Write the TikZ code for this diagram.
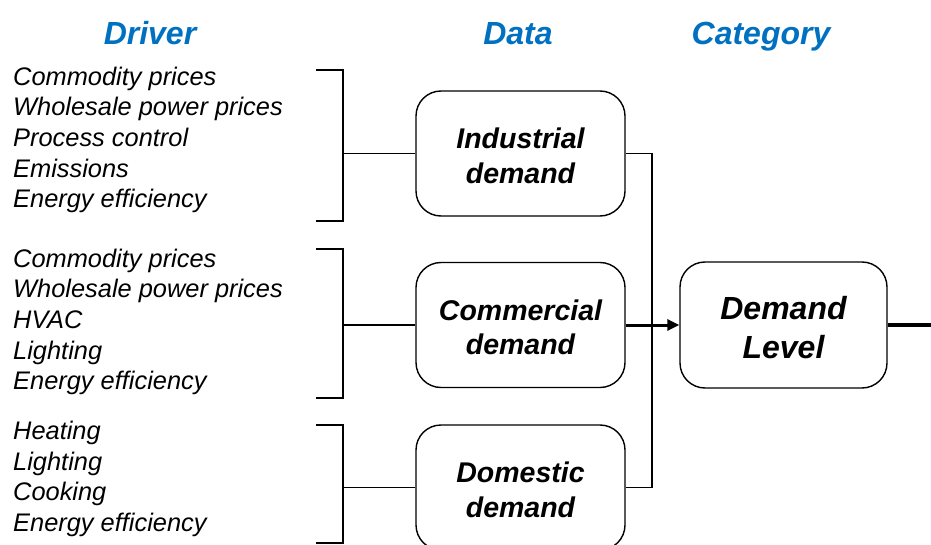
\documentclass[tikz,border=0pt]{standalone}
\usepackage{fontspec}
\setmainfont{Liberation Sans}
\usetikzlibrary{arrows.meta}
\definecolor{hdrblue}{RGB}{0,112,192}
\begin{document}
\begin{tikzpicture}[x=1pt,y=-1pt,
  hdr/.style={font=\fontsize{32}{36}\selectfont\bfseries\itshape, text=hdrblue, inner sep=0pt, anchor=base},
  drv/.style={font=\fontsize{25.4}{30.6}\selectfont\itshape, align=left, anchor=west, inner sep=0pt},
  databox/.style={draw, line width=1.4pt, rounded corners=25pt, minimum width=209pt, minimum height=125pt, inner sep=0pt},
  catbox/.style={draw, line width=1.4pt, rounded corners=25pt, minimum width=207pt, minimum height=126pt, inner sep=0pt},
  datatext/.style={align=center, font=\fontsize{28.5}{34.5}\selectfont\bfseries\itshape, inner sep=0pt, yshift=-2.5pt},
  cattext/.style={align=center, font=\fontsize{32}{38.5}\selectfont\bfseries\itshape, inner sep=0pt, yshift=-2.5pt},
  link/.style={line width=1.4pt},
  brk/.style={line width=1.4pt}
]
\useasboundingbox (0,0) rectangle (931,545);
\clip (0,0) rectangle (931,545);
% headers
\node[hdr] (hDriver) at (150,45) {Driver};
\node[hdr] (hData) at (518,45) {Data};
\node[hdr] (hCat) at (761,45) {Category};
% driver lists
\node[drv] (d1) at (13,140) {Commodity prices\\Wholesale power prices\\Process control\\Emissions\\Energy efficiency};
\node[drv] (d2) at (13,322) {Commodity prices\\Wholesale power prices\\HVAC\\Lighting\\Energy efficiency};
\node[drv] (d3) at (13,479) {Heating\\Lighting\\Cooking\\Energy efficiency};
% boxes
\node[databox] (ind) at (520.5,153.5) {};
\node[databox] (com) at (520.5,325) {};
\node[databox] (dom) at (520.5,487.5) {};
\node[catbox] (dem) at (783.5,325) {};
\node[datatext] (indT) at (ind.center) {Industrial\\demand};
\node[datatext] (comT) at (com.center) {Commercial\\demand};
\node[datatext] (domT) at (dom.center) {Domestic\\demand};
\node[cattext] (demT) at (dem.center) {Demand\\Level};
% brackets
\coordinate (b1) at (343,153.5);
\coordinate (b2) at (343,325);
\coordinate (b3) at (343,487.5);
\draw[brk] (316,70) -- (343,70) -- (343,221) -- (316,221);
\draw[brk] (316,249) -- (343,249) -- (343,398) -- (316,398);
\draw[brk] (316,425) -- (343,425) -- (343,543) -- (316,543);
\draw[link] (b1) -- (ind.west);
\draw[link] (b2) -- (com.west);
\draw[link] (b3) -- (dom.west);
% collector
\coordinate (cTop) at (652,153.5);
\coordinate (cBot) at (652,487.5);
\coordinate (rEnd) at (931,325);
\draw[link] (ind.east) -- (cTop) -- (cBot) -- (dom.east);
\draw[line width=3pt, -{Triangle[length=12pt,width=11pt]}] (com.east) -- (dem.west);
\draw[line width=3.2pt] (dem.east) -- (rEnd);
\end{tikzpicture}
\end{document}
